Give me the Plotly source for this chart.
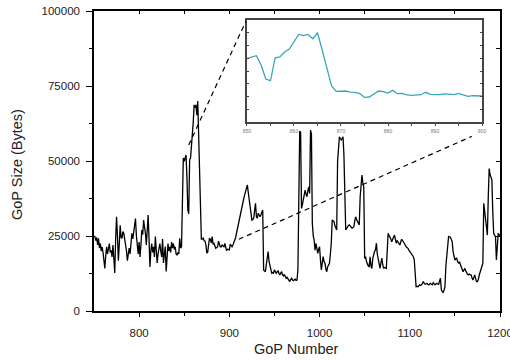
import plotly.graph_objects as go

# ---------------- data ----------------
gop_start = 750
gop_end = 1200

size_750_849 = [
    25000, 24800, 23500, 24500, 22000, 24200, 21000, 22500, 20000, 21400,
    19500, 17000, 14200, 18500, 21400, 19000, 20500, 22500, 19500, 20200,
    18000, 22000, 17500, 12700, 24000, 31400, 25000, 16800, 22000, 28600,
    24500, 24200, 26500, 25900, 24000, 22500, 20000, 16800, 18500, 21000,
    19000, 23000, 25900, 24000, 27000, 28000, 30800, 25000, 21400, 19000,
    23000, 18000, 22000, 27000, 25500, 30300, 28000, 25900, 22000, 27500,
    32000, 24000, 14700, 20000, 22500, 19500, 21400, 18000, 24800, 20500,
    16000, 19000, 21000, 22500, 20000, 18000, 24000, 16000, 19000, 21500,
    13200, 17000, 22500, 20000, 21400, 19500, 23000, 21000, 22500, 20500,
    21400, 19000, 18600, 19500, 19000, 24200, 21000, 21400, 45000, 51000,
]

size_850_900 = [
    49900, 51000, 52000, 44700, 33700, 32400, 50400, 51000, 54900, 57200,
    63000, 68700, 67700, 68700, 65300, 70000, 56500, 43400, 28200, 24000,
    24000, 24300, 23500, 23300, 22200, 19300, 19600, 21700, 24300, 23800,
    22700, 24800, 22200, 22500, 21200, 20900, 21200, 21400, 23300, 21700,
    21400, 21400, 22000, 21700, 21400, 22500, 21200, 20100, 20600, 20600,
    20400,
]

size_901_1200 = [
    22300, 21500, 21400, 22000, 22800, 23100, 24500, 26000, 27500, 28500,
    30000, 32000, 33500, 35500, 37000, 37500, 38700, 40000, 41500, 42000,
    39500, 37000, 34500, 32000, 30300, 30500, 30900, 33500, 35900, 31500,
    30900, 32600, 31800, 31400, 32000, 32600, 33700, 13700, 13500, 13100,
    15500, 18100, 19800, 16500, 14800, 13500, 12600, 12800, 12600, 13700,
    13000, 12600, 13000, 13500, 12500, 12000, 12700, 13100, 12000, 11700,
    12200, 11500, 10900, 11200, 10600, 10300, 9800, 10500, 10900, 10300,
    10100, 10400, 10600, 10200, 10300, 13700, 37000, 60000, 59500, 34200,
    35500, 37000, 39000, 40300, 39000, 38100, 40000, 41400, 39200, 60300,
    59000, 29200, 25000, 23700, 20300, 22500, 21000, 19200, 20500, 21400,
    17000, 13700, 16000, 18100, 16500, 15900, 14000, 13100, 14800, 15500,
    15900, 19000, 22500, 30300, 30000, 29800, 28500, 27500, 27000, 50000,
    56000, 58100, 57500, 57000, 57500, 58100, 52000, 40300, 27000, 27500,
    28100, 28500, 28700, 28300, 28100, 27600, 27800, 28100, 30000, 31400,
    30500, 29800, 29200, 28700, 38000, 42000, 45300, 42600, 41400, 17500,
    18100, 16500, 15300, 15000, 14800, 18100, 15000, 14200, 17500, 19200,
    20000, 20300, 22600, 19000, 17000, 15500, 14200, 16000, 17600, 15500,
    14200, 14500, 14200, 14200, 20000, 25900, 25200, 24800, 24000, 23100,
    23700, 24500, 25300, 24000, 22600, 23500, 23100, 22500, 22000, 23000,
    23900, 23500, 23100, 22600, 22000, 21400, 21200, 20900, 20300, 19800,
    19200, 18700, 18400, 18100, 17000, 12000, 8100, 8200, 8100, 8400,
    8700, 8500, 8700, 9200, 9800, 9300, 8900, 9000, 9200, 8900,
    8700, 9000, 9200, 8900, 8700, 9400, 9000, 8700, 9000, 9200,
    9000, 8900, 10000, 10900, 7000, 6500, 6100, 7000, 8100, 15000,
    19200, 23000, 24800, 24700, 24600, 23800, 23100, 19800, 18500, 17000,
    17400, 17600, 16500, 15900, 16400, 15500, 14800, 14000, 13100, 13600,
    14200, 13400, 12600, 12200, 12000, 12300, 12100, 12000, 11000, 10300,
    11200, 12000, 10800, 9800, 9800, 10500, 12000, 12800, 13700, 14800,
    15900, 35900, 33500, 31400, 28000, 25300, 38000, 47500, 45500, 44800,
    43700, 33000, 25900, 25300, 24800, 17000, 21000, 25900, 25500, 25000,
]

gop_size = size_750_849 + size_850_900 + size_901_1200
gop_number = list(range(gop_start, gop_start + len(gop_size)))

inset_start, inset_end = 850, 900
inset_x = [g for g in gop_number if inset_start <= g <= inset_end]
inset_y = [v for g, v in zip(gop_number, gop_size) if inset_start <= g <= inset_end]

x_ticks = [800, 900, 1000, 1100, 1200]
y_ticks = [0, 25000, 50000, 75000, 100000]
inset_x_ticks = [850, 860, 870, 880, 890, 900]

# zoom connector endpoints (main data coords)
connector_1 = ((855, 55300), (918.5, 96700))
connector_2 = ((910.5, 23900), (1168.7, 58200))

# ---------------- figure ----------------
FONT = "Liberation Sans, Arial, sans-serif"
fig = go.Figure()

fig.add_trace(go.Scatter(x=gop_number, y=gop_size, mode="lines",
                         line=dict(color="black", width=1.3),
                         showlegend=False, hoverinfo="skip"))
# invisible trace on mirror axes (top / right ticks)
fig.add_trace(go.Scatter(x=gop_number, y=gop_size, mode="lines",
                         line=dict(color="rgba(0,0,0,0)", width=0),
                         xaxis="x3", yaxis="y3",
                         showlegend=False, hoverinfo="skip"))
# inset
fig.add_trace(go.Scatter(x=inset_x, y=inset_y, mode="lines",
                         line=dict(color="#3aa7b9", width=1.3),
                         xaxis="x2", yaxis="y2",
                         showlegend=False, hoverinfo="skip"))

tickfont = dict(family=FONT, size=11.5, color="#222")

fig.update_layout(
    width=510, height=360,
    margin=dict(l=94, r=10, t=11, b=49, autoexpand=False),
    paper_bgcolor="white", plot_bgcolor="white",
    xaxis=dict(range=[gop_start, gop_end], tickvals=x_ticks, ticktext=[str(t) for t in x_ticks],
               showgrid=False, zeroline=False, showline=True, linecolor="black", linewidth=1.5,
               ticks="outside", ticklen=4, tickwidth=1.2, tickcolor="black",
               minor=dict(ticks="outside", ticklen=3, tickwidth=1.2, tickcolor="black",
                          tickvals=[850, 950, 1050, 1150]),
               tickfont=tickfont, ticklabelstandoff=6, anchor="y", fixedrange=True,
               automargin=False, ticklabeloverflow="allow"),
    yaxis=dict(range=[0, 100000], tickvals=y_ticks, ticktext=[str(t) for t in y_ticks],
               showgrid=False, zeroline=False, showline=True, linecolor="black", linewidth=1.5,
               ticks="outside", ticklen=6, tickwidth=1.2, tickcolor="black",
               minor=dict(ticks="outside", ticklen=3, tickwidth=1.2, tickcolor="black",
                          tickvals=[12500, 37500, 62500, 87500]),
               tickfont=tickfont, ticklabelstandoff=4, anchor="x", fixedrange=True,
               automargin=False, ticklabeloverflow="allow"),
    xaxis3=dict(range=[gop_start, gop_end], overlaying="x", side="top", anchor="y3",
                showgrid=False, zeroline=False, showline=True, linecolor="black", linewidth=1.5,
                ticks="inside", ticklen=3, tickwidth=1, tickcolor="black",
                tickvals=[800, 850, 900, 950, 1000, 1050, 1100, 1150],
                showticklabels=False, fixedrange=True, automargin=False),
    yaxis3=dict(range=[0, 100000], overlaying="y", side="right", anchor="x3",
                showgrid=False, zeroline=False, showline=True, linecolor="black", linewidth=1.5,
                ticks="inside", ticklen=4, tickwidth=1.2, tickcolor="black",
                tickvals=[12500, 25000, 37500, 50000, 62500, 75000, 87500],
                showticklabels=False, fixedrange=True, automargin=False),
    xaxis2=dict(domain=[0.3768, 0.9557], anchor="y2", range=[inset_start, inset_end],
                tickvals=inset_x_ticks, ticktext=[str(t) for t in inset_x_ticks],
                showgrid=False, zeroline=False, showline=True, mirror=True,
                linecolor="#444", linewidth=1.5,
                ticks="outside", ticklen=2, tickwidth=1, tickcolor="#444",
                minor=dict(ticks="outside", ticklen=2, tickwidth=1, tickcolor="#444",
                           tickvals=[855, 865, 875, 885, 895]),
                tickfont=dict(family=FONT, size=5, color="#777"), ticklabelstandoff=1,
                fixedrange=True, automargin=False),
    yaxis2=dict(domain=[0.63, 0.97], anchor="x2", range=[0, 80000],
                dtick=10000, showticklabels=False,
                showgrid=False, zeroline=False, showline=True, mirror="ticks",
                linecolor="#444", linewidth=1.5,
                ticks="inside", ticklen=2, tickwidth=1, tickcolor="#444",
                fixedrange=True, automargin=False),
    shapes=[
        dict(type="line", xref="x", yref="y",
             x0=connector_1[0][0], y0=connector_1[0][1],
             x1=connector_1[1][0], y1=connector_1[1][1],
             line=dict(color="black", width=1.2, dash="5px,4px"), layer="above"),
        dict(type="line", xref="x", yref="y",
             x0=connector_2[0][0], y0=connector_2[0][1],
             x1=connector_2[1][0], y1=connector_2[1][1],
             line=dict(color="black", width=1.2, dash="5px,4px"), layer="above"),
    ],
    annotations=[
        dict(text="GoP Number", xref="paper", yref="paper",
             x=(296 - 94) / 406, y=(311 - 349) / 300,
             xanchor="center", yanchor="middle", showarrow=False,
             font=dict(family=FONT, size=14.5, color="#222")),
        dict(text="GoP Size (Bytes)", xref="paper", yref="paper",
             x=(17 - 94) / 406, y=(311 - 165) / 300, textangle=-90,
             xanchor="center", yanchor="middle", showarrow=False,
             font=dict(family=FONT, size=14.5, color="#222")),
    ],
)

fig.write_html("out.html")
